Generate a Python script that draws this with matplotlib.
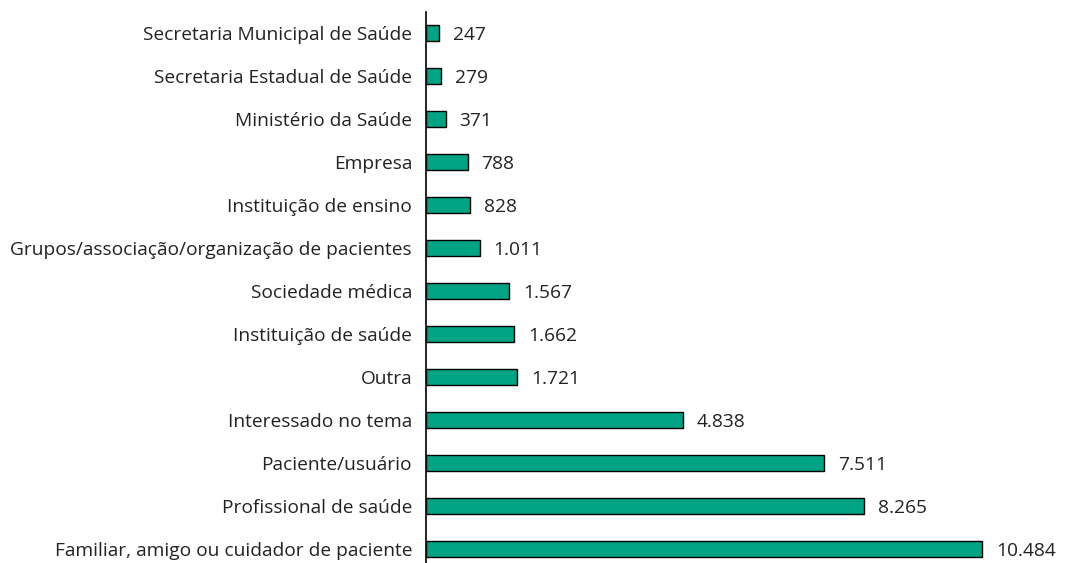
import matplotlib.pyplot as plt

categories = ['Secretaria Municipal de Saúde', 'Secretaria Estadual de Saúde',
              'Ministério da Saúde', 'Empresa', 'Instituição de ensino',
              'Grupos/associação/organização de pacientes', 'Sociedade médica',
              'Instituição de saúde', 'Outra', 'Interessado no tema',
              'Paciente/usuário', 'Profissional de saúde',
              'Familiar, amigo ou cuidador de paciente']
values = [247, 279, 371, 788, 828, 1011, 1567, 1662, 1721, 4838, 7511, 8265, 10484]

plt.rcParams['font.family'] = ['Open Sans', 'DejaVu Sans']

fig = plt.figure(figsize=(10.73, 5.63), dpi=100)
ax = fig.add_axes([0.397, 0.0, 0.6, 0.979])

pos = list(range(len(categories)))
ax.barh(pos, values, height=0.38, color='#00a383', edgecolor='black', linewidth=1)

for p, v in zip(pos, values):
    txt = f'{v:,}'.replace(',', '.')
    ax.text(v + 260, p + 0.05, txt, va='center', ha='left', fontsize=13.8, color='#222222')

ax.set_yticks(pos)
ax.set_yticklabels(categories, fontsize=13.8, color='#222222')
ax.tick_params(axis='y', length=0, pad=10)
ax.set_xticks([])
ax.set_xlim(0, 12140)
ax.set_ylim(12.33, -0.49)
for s in ['top', 'right', 'bottom']:
    ax.spines[s].set_visible(False)
ax.spines['left'].set_linewidth(1.2)

fig.savefig('out.png', dpi=100)
